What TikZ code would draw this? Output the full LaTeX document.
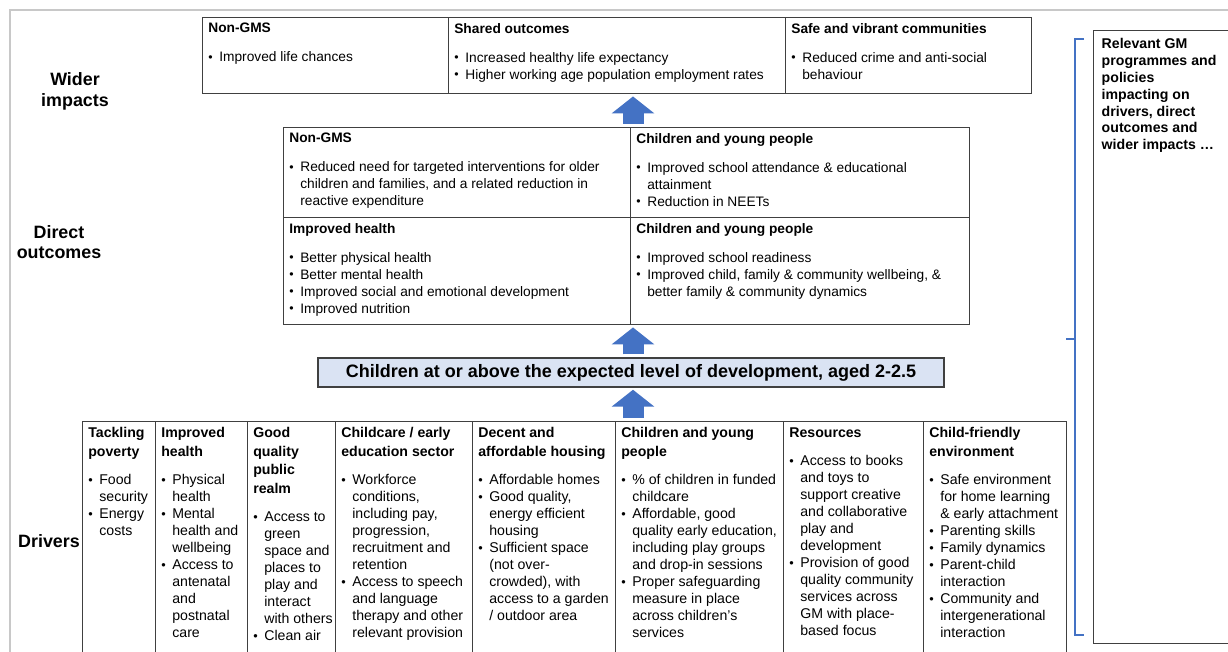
\documentclass[tikz,border=0pt]{standalone}
\usepackage{fontspec}
\setmainfont{Liberation Sans}
\usetikzlibrary{positioning,arrows.meta}

\definecolor{gmblue}{HTML}{4472C4}
\definecolor{barfill}{HTML}{DAE3F3}
\definecolor{boxline}{HTML}{404040}
\definecolor{framegray}{HTML}{C8C8C8}

% padding inside every table cell
\newlength\cellpad
\setlength\cellpad{4.2pt}
% top aligned text box of a cell, size given in pixels
\newcommand\cellbox[3]{\parbox[t][\dimexpr0.75pt*#2-2\cellpad\relax][t]{\dimexpr0.75pt*#1-2\cellpad\relax}{\rightskip=0pt plus 3em\relax#3}}
% cell headings and bullet points
\newcommand\hd[1]{{\bfseries#1\par}\vspace{9pt}}
\newcommand\dhd[1]{{\fontsize{10.6}{13.9}\bfseries#1\par}\vspace{8.6pt}}
\newcommand\bul[1]{\par\hangindent=8.25pt\hangafter=1\noindent\makebox[8.25pt][l]{\raisebox{.05ex}{\scalebox{.9}{\textbullet}}}#1}

\begin{document}
\begin{tikzpicture}[x=0.75pt,y=-0.75pt,
    cell/.style={draw=boxline, line width=1.1pt, anchor=north west, inner sep=\cellpad,
        font=\fontsize{10.3}{12.75}\selectfont},
    driver/.style={cell, font=\fontsize{10.6}{12.75}\selectfont},
    side/.style={align=center, font=\fontsize{13.4}{15.5}\selectfont\bfseries},
    blockarrow/.style={gmblue, line width=15.75pt, -{Triangle[width=31.5pt,length=12.75pt]},
        shorten <=2.25pt, shorten >=1.5pt}]
    \clip (0,0) rectangle (1228,652);

    % Page frame
    \draw[framegray, line width=1.5pt] (9,10) -- (1228,10) (10,10) -- (10,652);

    % Row labels
    \node[side] (lwider) at (75,91.5) {Wider\\impacts};
    \node[side] (ldirect) at (59,242) {Direct\\outcomes};
    \node[side] (ldrivers) at (49,541) {Drivers};

    % Wider impacts
    \node[cell] (wnon) at (202,17) {\cellbox{246}{76}{\hd{Non-GMS}
        \bul{Improved life chances}}};
    \node[cell] (wshared) at (448,17) {\cellbox{337}{76}{\hd{Shared outcomes}
        \bul{Increased healthy life expectancy}
        \bul{Higher working age population employment rates}}};
    \node[cell] (wsafe) at (785,17) {\cellbox{246}{76}{\hd{Safe and vibrant communities}
        \bul{Reduced crime and anti-social\\behaviour}}};

    % Direct outcomes
    \node[cell] (dnon) at (283,127) {\cellbox{347}{90}{\hd{Non-GMS}
        \bul{Reduced need for targeted interventions for older\\children and families, and a related reduction in\\reactive expenditure}}};
    \node[cell] (dyoung) at (630,127) {\cellbox{339}{90}{\hd{Children and young people}
        \bul{Improved school attendance \& educational\\attainment}
        \bul{Reduction in NEETs}}};
    \node[cell] (dhealth) at (283,217) {\cellbox{347}{107}{\hd{Improved health}
        \bul{Better physical health}
        \bul{Better mental health}
        \bul{Improved social and emotional development}
        \bul{Improved nutrition}}};
    \node[cell] (dready) at (630,217) {\cellbox{339}{107}{\hd{Children and young people}
        \bul{Improved school readiness}
        \bul{Improved child, family \& community wellbeing, \&\\better family \& community dynamics}}};

    % Central outcome
    \node[draw=boxline, fill=barfill, line width=1.1pt, minimum width=469.5pt, minimum height=21.75pt,
        font=\fontsize{13.5}{16}\selectfont\bfseries] (goal) at (631,372.5)
        {Children at or above the expected level of development, aged 2-2.5};

    % Drivers
    \foreach \n/\xa/\w/\txt in {
        drpov/82/73/{\dhd{Tackling\\poverty}\bul{Food\\security}\bul{Energy\\costs}},
        drhealth/155/92/{\dhd{Improved\\health}\bul{Physical\\health}\bul{Mental\\health and\\wellbeing}
            \bul{Access to\\antenatal\\and\\postnatal\\care}},
        drrealm/247/88/{\dhd{Good\\quality\\public\\realm}\bul{Access to\\green\\space and\\places to\\play and\\interact\\\mbox{with others}}
            \bul{Clean air}},
        drcare/335/137/{\dhd{Childcare / early\\education sector}\bul{Workforce\\conditions,\\including pay,\\progression,\\recruitment and\\retention}
            \bul{Access to speech\\and language\\therapy and other\\relevant provision}},
        drhouse/472/143/{\dhd{Decent and\\affordable housing}\bul{Affordable homes}\bul{Good quality,\\energy efficient\\housing}
            \bul{Sufficient space\\(not over-\\crowded), with\\access to a garden\\/ outdoor area}},
        dryoung/615/168/{\dhd{Children and young\\people}\bul{\% of children in funded\\childcare}
            \bul{Affordable, good\\quality early education,\\including play groups\\and drop-in sessions}
            \bul{Proper safeguarding\\measure in place\\across children’s\\services}},
        drres/783/140/{\dhd{Resources}\bul{Access to books\\and toys to\\support creative\\and collaborative\\play and\\development}
            \bul{Provision of good\\quality community\\services across\\GM with place-\\based focus}},
        drenv/923/143/{\dhd{Child-friendly\\environment}\bul{Safe environment\\for home learning\\\& early attachment}
            \bul{Parenting skills}\bul{Family dynamics}\bul{Parent-child\\interaction}
            \bul{Community and\\intergenerational\\interaction}}}
        \node[driver] (\n) at (\xa,421) {\cellbox{\w}{239}{\txt}};

    % Block arrows between the levels
    \coordinate (ax) at (633,0);
    \draw[blockarrow] (dryoung.north -| ax) -- (goal.south -| ax);
    \draw[blockarrow] (goal.north -| ax) -- (dready.south -| ax);
    \draw[blockarrow] (dyoung.north -| ax) -- (wshared.south -| ax);

    % GM programmes box and its bracket
    \node[cell, inner xsep=6pt, inner ysep=5.9pt, font=\fontsize{10.6}{12.6}\selectfont\bfseries] (gm) at (1093,30)
        {\parbox[t][447.9pt][t]{100.5pt}{\raggedright Relevant GM\\programmes and\\policies\\impacting on\\drivers, direct\\outcomes and\\wider impacts …}};
    \draw[gmblue, line width=2pt] (1084,39) -- (1075,39) -- (1075,635) -- (1084,635)
        (1075,339) -- (1066,339);
\end{tikzpicture}
\end{document}
